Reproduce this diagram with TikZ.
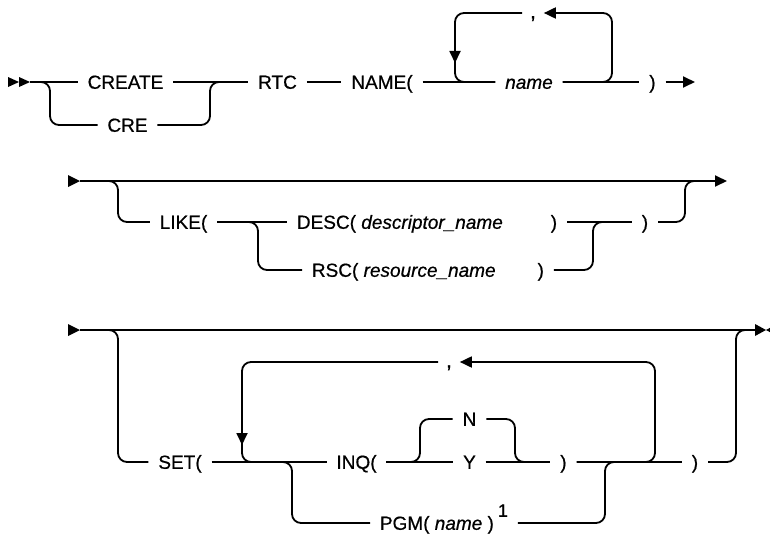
\documentclass[tikz,border=0pt]{standalone}
\usepackage{fontspec}
\setmainfont{Liberation Sans}[FakeBold=0.6]
\usetikzlibrary{arrows.meta}

\begin{document}
\begin{tikzpicture}[x=1pt, y=-1pt, line width=1.8pt,
    tok/.style={inner xsep=9pt, inner ysep=0pt, text height=13.6pt, text depth=0pt,
        font=\fontsize{19}{22}\selectfont},
    sep/.style={tok, inner xsep=7pt, text height=11pt, font=\fontsize{21}{22}\selectfont},
    rail/.style={rounded corners=9pt},
    tip/.style={-{Triangle[length=12pt,width=11pt]}}]
    \useasboundingbox (0,0) rectangle (770,535);

    % Row 1: CREATE|CRE RTC NAME( name, ... )
    \fill (8,77) -- (19,82) -- (8,87) -- cycle;
    \fill (19,77) -- (30,82) -- (19,87) -- cycle;
    \coordinate (s1) at (30,82);
    \coordinate (e1) at (695,82);
    \node[tok] (create) at (125.5,82) {CREATE};
    \node[tok] (cre) at (127.5,125) {CRE};
    \node[tok] (rtc) at (277.5,82) {RTC};
    \node[tok] (nameo) at (382,82) {NAME(};
    \node[tok] (name) at (529,82) {\itshape name};
    \node[tok] (namec) at (652.5,82) {)};
    \node[sep] (comma1) at (533,13) {,};

    \draw (s1) -- (create.west);
    \draw (create.east) -- (rtc.west);
    \draw[rail] (40,82) -- ++(10,0) |- (cre.west);
    \draw[rail] (cre.east) -| (210,82) -- ++(10,0);
    \draw (rtc.east) -- (nameo.west);
    \draw (nameo.east) -- (name.west);
    \draw (name.east) -- (namec.west);
    \draw[tip] (namec.east) -- (e1);
    % repeat loop
    \draw[rail, tip] (name.east) -| (612,13) -- (comma1.east);
    \draw[rail, tip] (comma1.west) -| (455,63);
    \draw[rail] (455,60) |- (name.west);

    % Row 2: optional LIKE(
    \fill (68,175) -- (80,181) -- (68,187) -- cycle;
    \coordinate (s2) at (80,181);
    \coordinate (e2) at (727,181);
    \node[tok] (like) at (183.5,222) {LIKE(};
    \node[tok, anchor=west] (desc) at (287,222) {DESC( \textit{descriptor\_name}\hspace{48pt})};
    \node[tok, anchor=west] (rsc) at (302,270) {RSC( \textit{resource\_name}\hspace{42pt})};
    \node[tok] (likec) at (645,222) {)};

    \draw[tip] (s2) -- (e2);
    \draw[rail] (108,181) -- ++(10,0) |- (like.west);
    \draw (like.east) -- (desc.west);
    \draw[rail] (248,222) -- ++(10,0) |- (rsc.west);
    \draw (desc.east) -- (likec.west);
    \draw[rail] (rsc.east) -| (593,222) -- ++(10,0);
    \draw[rail] (likec.east) -| (685,181) -- ++(10,0);

    % Row 3: optional SET(
    \fill (68,324) -- (80,330) -- (68,336) -- cycle;
    \coordinate (s3) at (80,330);
    \coordinate (e3) at (755,330);
    \fill (755,324) -- (766,330) -- (755,336) -- cycle;
    \fill (777,324) -- (766,330) -- (777,336) -- cycle;
    \node[tok] (set) at (180,462) {SET(};
    \node[tok] (inq) at (356.5,462) {INQ(};
    \node[tok] (no) at (469.5,419) {N};
    \node[tok] (yes) at (469.5,462) {Y};
    \node[tok] (inqc) at (563.5,462) {)};
    \node[tok] (setc) at (695,462) {)};
    \node[sep] (comma2) at (449,362) {,};
    \node[tok, anchor=west] (pgm) at (370,523)
        {PGM( \textit{name} )\hspace{4pt}\raisebox{13pt}{\fontsize{18}{18}\selectfont 1}};

    \draw (s3) -- (e3);
    \draw[rail] (108,330) -- ++(10,0) |- (set.west);
    \draw (set.east) -- (inq.west);
    \draw[rail, tip] (comma2.west) -| (242,445);
    \draw[rail] (242,442) |- (inq.west);
    \draw[rail] (282,462) -- ++(10,0) |- (pgm.west);
    \draw (inq.east) -- (yes.west);
    \draw[rail] (410,462) -- ++(10,0) |- (no.west);
    \draw[rail] (no.east) -| (515,462) -- ++(10,0);
    \draw (yes.east) -- (inqc.west);
    \draw (inqc.east) -- (setc.west);
    \draw[rail] (pgm.east) -| (605,462) -- ++(10,0);
    \draw[rail, tip] (inqc.east) -| (655,362) -- (comma2.east);
    \draw[rail] (setc.east) -| (736,330) -- ++(10,0);
\end{tikzpicture}
\end{document}
